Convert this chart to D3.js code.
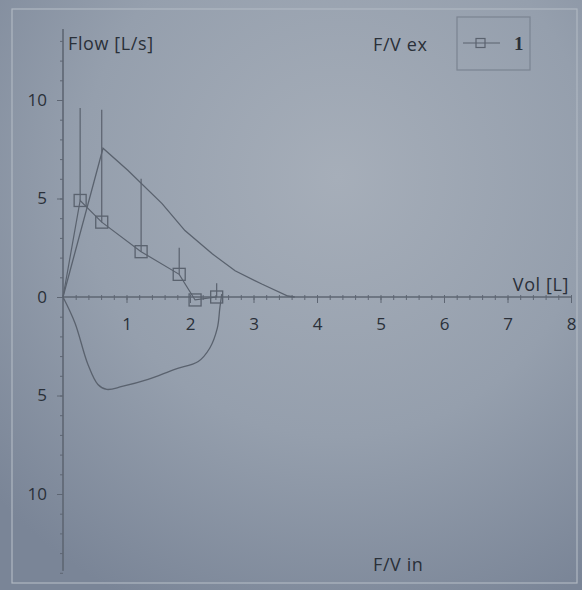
<!DOCTYPE html>
<html><head><meta charset="utf-8">
<script src="https://cdn.jsdelivr.net/npm/d3@7"></script>
<style>
html,body{margin:0;padding:0;background:#95a0ad;}
svg{display:block;}
text{font-family:"Open Sans","Noto Sans",sans-serif;fill:#2a3039;}
</style></head>
<body>
<script>
// Predicted (reference) flow-volume curve, expiration
const predVol  = [0, 0.63, 1.02, 1.56, 1.92, 2.35, 2.71, 3.13, 3.54, 3.65];
const predFlow = [0, 7.55, 6.43, 4.74, 3.37, 2.19, 1.33, 0.66, 0.05, 0];
// Inspiration curve
const inVol  = [0, 0.19, 0.39, 0.55, 0.69, 0.93, 1.34, 1.76, 2.13, 2.31, 2.43, 2.47, 2.50];
const inFlow = [0, -1.33, -3.4, -4.44, -4.69, -4.54, -4.18, -3.67, -3.27, -2.6, -1.58, -0.56, 0.15];
// Measured series "1" (markers) with upper error bars
const measVol  = [0.27, 0.61, 1.23, 1.83, 2.08, 2.42];
const measFlow = [4.9, 3.8, 2.3, 1.15, -0.15, 0];
const measErrTop = [9.6, 9.5, 6.0, 2.5, null, 0.7];
// Axis ticks
const xTicks = [1, 2, 3, 4, 5, 6, 7, 8];
const yTicks = [-10, -5, 0, 5, 10];
const seriesName = "1";

const W = 582, H = 590;
const svg = d3.select("body").append("svg").attr("width", W).attr("height", H);

// photo-like background
const defs = svg.append("defs");
const rg = defs.append("radialGradient").attr("id", "bg").attr("cx", "58%").attr("cy", "30%").attr("r", "80%");
rg.append("stop").attr("offset", "0%").attr("stop-color", "#a6aeb9");
rg.append("stop").attr("offset", "55%").attr("stop-color", "#959fad");
rg.append("stop").attr("offset", "100%").attr("stop-color", "#7a8597");
svg.append("rect").attr("width", W).attr("height", H).attr("fill", "url(#bg)");
svg.append("rect").attr("x", 12).attr("y", 9).attr("width", 565).attr("height", 574)
  .attr("fill", "none").attr("stroke", "#b0b8c2").attr("stroke-width", 1.2);

const x = d3.scaleLinear().domain([0, 8]).range([63, 571]);
const y = d3.scaleLinear().domain([-14, 10]).range([572.8, 100]);

const axisColor = "#5e6673";
const lineColor = "#5a626e";

// X axis
const gx = svg.append("g").attr("transform", `translate(0,${y(0)})`);
gx.call(d3.axisBottom(x).tickValues(d3.range(0, 8.001, 0.2)).tickSize(3).tickFormat(""));
gx.call(g => g.selectAll(".tick line").attr("y1", -2));
const gx2 = svg.append("g").attr("transform", `translate(0,${y(0)})`)
  .call(d3.axisBottom(x).tickValues(xTicks).tickSize(6).tickPadding(15).tickFormat(d3.format("d")));
[gx, gx2].forEach(g => {
  g.selectAll("path,line").attr("stroke", axisColor);
  g.select(".domain").attr("d", `M${x(0)},0H${x(8)}`);
});
gx2.selectAll("text").attr("font-size", 17).style("fill", "#2a3039");
gx.select(".domain").attr("stroke-width", 1.2);

// Y axis
const gy = svg.append("g").attr("transform", `translate(${x(0)},0)`)
  .call(d3.axisLeft(y).tickValues(d3.range(-14, 13.01, 1)).tickSize(3).tickFormat(""));
const gy2 = svg.append("g").attr("transform", `translate(${x(0)},0)`)
  .call(d3.axisLeft(y).tickValues(yTicks).tickSize(6).tickPadding(10).tickFormat(d => Math.abs(d)));
[gy, gy2].forEach(g => {
  g.selectAll("path,line").attr("stroke", axisColor);
  g.select(".domain").attr("d", `M0,${y(-13.9)}V${y(13.6)}`);
});
gy2.selectAll("text").attr("font-size", 17).style("fill", "#2a3039");
gy.select(".domain").attr("stroke-width", 1.2);

const line = d3.line().x(d => x(d[0])).y(d => y(d[1]));

// predicted expiration curve
svg.append("path").datum(predVol.map((v, i) => [v, predFlow[i]]))
  .attr("d", line).attr("fill", "none").attr("stroke", lineColor).attr("stroke-width", 1.3);
// inspiration curve
svg.append("path").datum(inVol.map((v, i) => [v, inFlow[i]]))
  .attr("d", d3.line().x(d => x(d[0])).y(d => y(d[1])).curve(d3.curveCatmullRom))
  .attr("fill", "none").attr("stroke", lineColor).attr("stroke-width", 1.3);

// measured series line (from origin)
const measPts = [[0, 0]].concat(measVol.map((v, i) => [v, measFlow[i]]));
svg.append("path").datum(measPts).attr("d", line)
  .attr("fill", "none").attr("stroke", lineColor).attr("stroke-width", 1.2);
// error bars
measVol.forEach((v, i) => {
  if (measErrTop[i] == null) return;
  svg.append("line").attr("x1", x(v)).attr("x2", x(v))
    .attr("y1", y(measFlow[i])).attr("y2", y(measErrTop[i]))
    .attr("stroke", lineColor).attr("stroke-width", 1.2);
});
// markers
const ms = 12;
svg.append("g").selectAll("rect").data(measVol.map((v, i) => [v, measFlow[i]])).join("rect")
  .attr("x", d => x(d[0]) - ms / 2).attr("y", d => y(d[1]) - ms / 2)
  .attr("width", ms).attr("height", ms)
  .attr("fill", "none").attr("stroke", lineColor).attr("stroke-width", 1.3);

// labels
const lab = (tx, ty, s, anchor) => svg.append("text").attr("x", tx).attr("y", ty)
  .attr("font-size", 18).attr("letter-spacing", 0.6).attr("text-anchor", anchor || "start").text(s);
lab(68, 50, "Flow [L/s]");
lab(569, 291, "Vol [L]", "end");
lab(373, 51, "F/V ex");
lab(373, 571, "F/V in");

// legend
svg.append("rect").attr("x", 457).attr("y", 17).attr("width", 73).attr("height", 53)
  .attr("fill", "none").attr("stroke", "#7b8491").attr("stroke-width", 1.2);
svg.append("line").attr("x1", 463).attr("x2", 500).attr("y1", 43).attr("y2", 43)
  .attr("stroke", lineColor).attr("stroke-width", 1.2);
svg.append("rect").attr("x", 476).attr("y", 38.5).attr("width", 9).attr("height", 9)
  .attr("fill", "none").attr("stroke", lineColor).attr("stroke-width", 1.2);
svg.append("text").attr("x", 514).attr("y", 50).attr("font-size", 19)
  .style("font-family", "'Liberation Serif', serif").style("font-weight", "bold").text(seriesName);
</script>
</body></html>
